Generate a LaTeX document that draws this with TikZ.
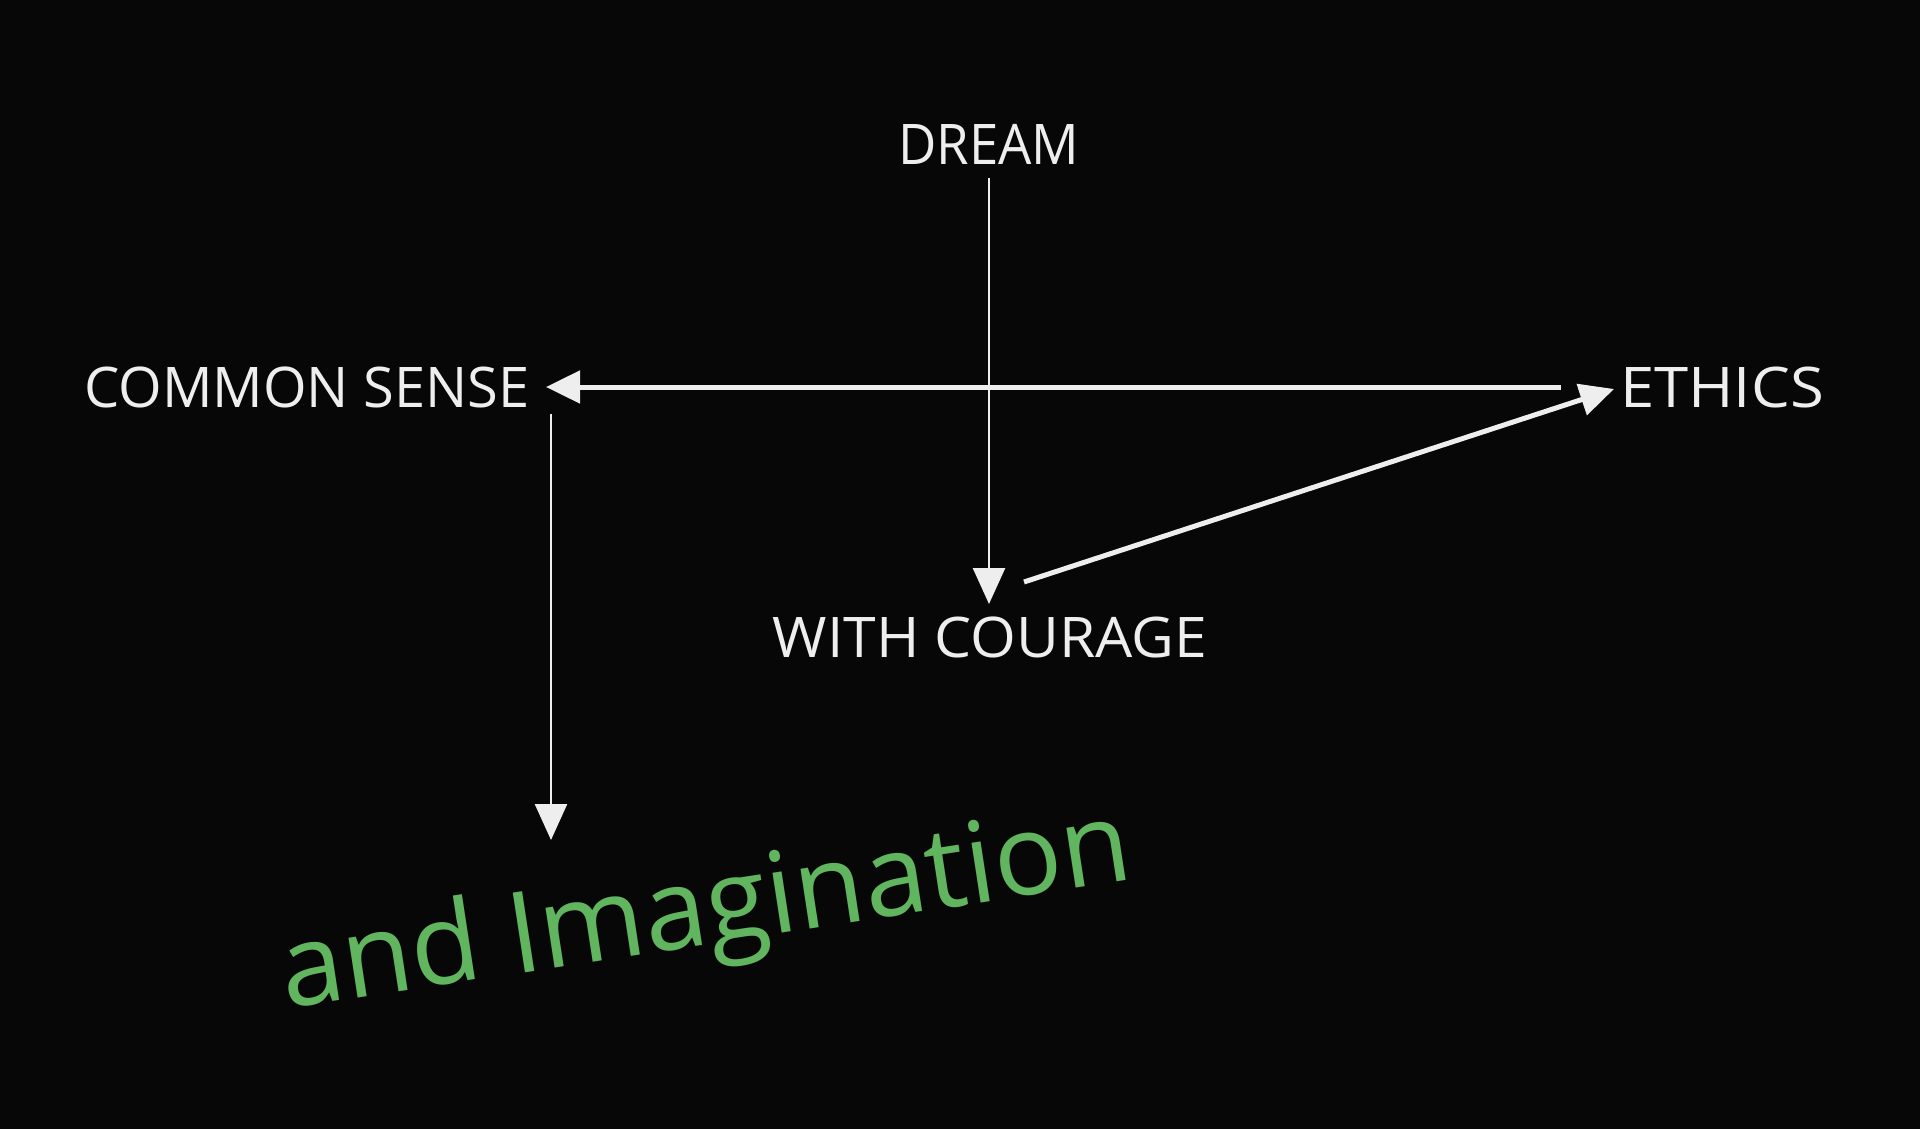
\documentclass[tikz,border=0pt]{standalone}
\usepackage{fontspec}
\setmainfont{Open Sans}
\usetikzlibrary{arrows.meta}
\definecolor{chalk}{HTML}{EEEEEE}
\definecolor{chalkgreen}{HTML}{62B55F}
\definecolor{board}{HTML}{070707}
\tikzset{
  label/.style={text=chalk, inner sep=0pt, font=\fontsize{56}{60}\selectfont},
  thinarrow/.style={draw=chalk, line width=2.5pt, -{Triangle[width=32pt,length=36pt]}},
  thickarrow/.style={draw=chalk, line width=5pt, -{Triangle[width=32pt,length=34pt]}},
}
\begin{document}
\begin{tikzpicture}[x=1pt,y=-1pt]
\fill[board] (0,0) rectangle (1920,1129);
\useasboundingbox (0,0) rectangle (1920,1129);

\node[label] (dream) at (989,144) {\scalebox{0.94}[1]{DREAM}};
\node[label] (cs) at (307,387) {COMMON SENSE};
\node[label] (ethics) at (1722,387) {\scalebox{1.1}[1]{ETHICS}};
\node[label] (courage) at (990,637) {\scalebox{1.05}[1]{WITH COURAGE}};
\node[text=chalkgreen, inner sep=0pt, anchor=base west, rotate=8.7,
      font=\fontsize{113}{120}\selectfont] (imag) at (286,1009) {and Imagination};

\coordinate (dreamS) at (989,178);
\coordinate (courageN) at (989,604);
\coordinate (ethicsW) at (1561,387);
\coordinate (csE) at (546,387);
\coordinate (csS) at (551,414);
\coordinate (imagN) at (551,840);
\coordinate (courageNE) at (1024,582);
\coordinate (ethicsSW) at (1614,389);

\draw[thinarrow] (dreamS) -- (courageN);
\draw[thickarrow] (ethicsW) -- (csE);
\draw[thinarrow] (csS) -- (imagN);
\draw[thickarrow] (courageNE) -- (ethicsSW);
\end{tikzpicture}
\end{document}
